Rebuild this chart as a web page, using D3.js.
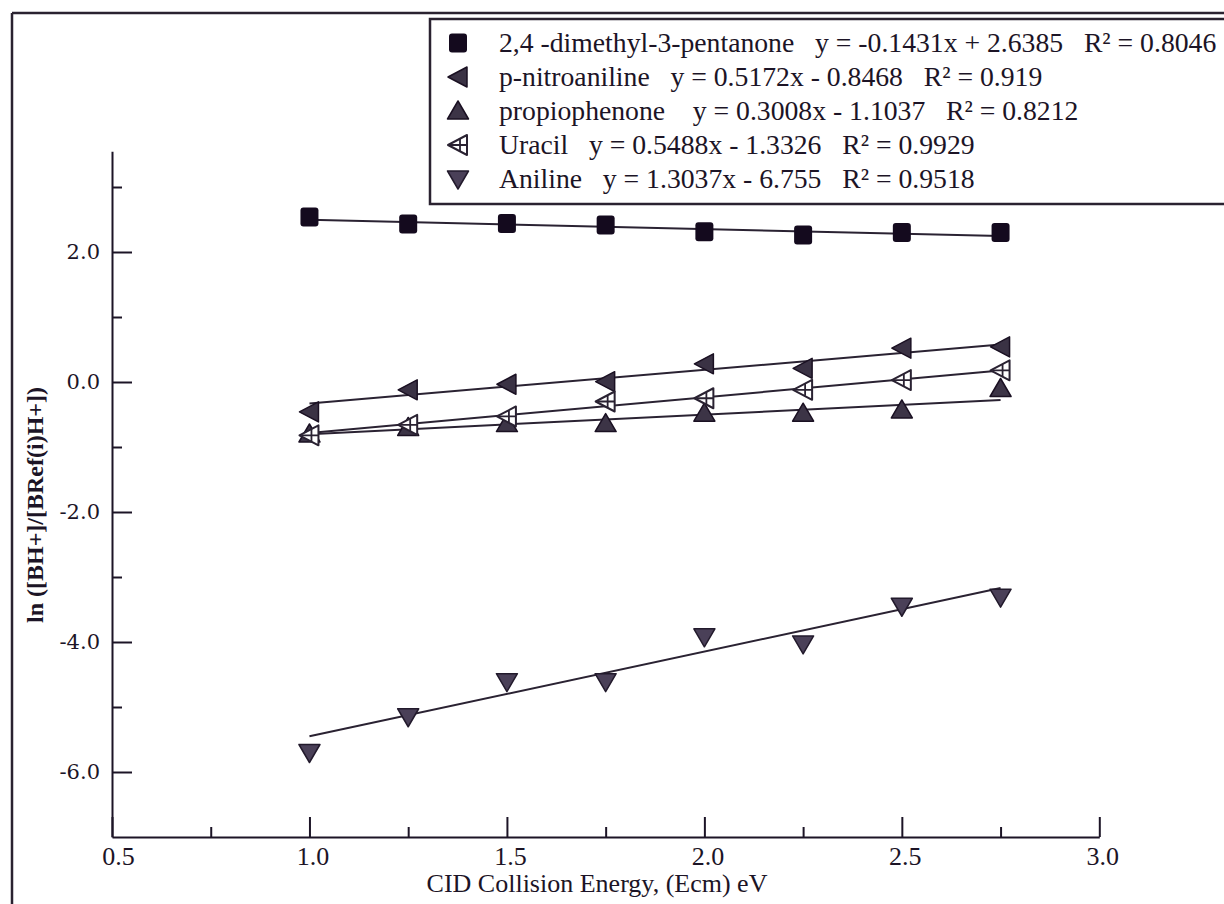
<!DOCTYPE html>
<html>
<head>
<meta charset="utf-8">
<script src="https://cdn.jsdelivr.net/npm/d3@7"></script>
<style>
  html, body { margin: 0; padding: 0; background: #fff; }
  svg { display: block; }
  text { fill: #1c1426; }
</style>
</head>
<body>
<svg id="chart" width="1224" height="904"></svg>
<script>
// CID energy (x) for every measured point
const energies = [1.0, 1.25, 1.5, 1.75, 2.0, 2.25, 2.5, 2.75];

// ln ratios for each reference base
const dimethylPentanone = [2.54, 2.43, 2.44, 2.415, 2.31, 2.26, 2.30, 2.30];
const pNitroaniline     = [-0.46, -0.12, -0.035, 0.005, 0.28, 0.21, 0.52, 0.54];
const propiophenone     = [-0.80, -0.70, -0.64, -0.64, -0.48, -0.48, -0.43, -0.10];
const uracil            = [-0.82, -0.66, -0.53, -0.30, -0.25, -0.12, 0.03, 0.18];
const aniline           = [-5.70, -5.15, -4.61, -4.61, -3.92, -4.03, -3.45, -3.31];

const seriesNames = ["2,4 -dimethyl-3-pentanone", "p-nitroaniline", "propiophenone", "Uracil", "Aniline"];
const seriesGaps  = ["   ", "   ", "    ", "   ", "   "];
const fitSlopes     = [-0.1431, 0.5172, 0.3008, 0.5488, 1.3037];
const fitIntercepts = [2.6385, -0.8468, -1.1037, -1.3326, -6.755];
const fitR2         = ["0.8046", "0.919", "0.8212", "0.9929", "0.9518"];
const markerKinds   = ["square", "left", "up", "leftOpen", "down"];

// axis ticks
const xMajorTicks = [0.5, 1.0, 1.5, 2.0, 2.5, 3.0];
const xMinorTicks = [0.75, 1.25, 1.75, 2.25, 2.75];
const xTickLabels = ["0.5", "1.0", "1.5", "2.0", "2.5", "3.0"];
const yMajorTicks = [-6, -4, -2, 0, 2];
const yMinorTicks = [-5, -3, -1, 1, 3];
const yTickLabels = ["-6.0", "-4.0", "-2.0", "0.0", "2.0"];

const seriesValues = [dimethylPentanone, pNitroaniline, propiophenone, uracil, aniline];

const svg = d3.select("#chart");
const ink = "#1c1426";

const x = d3.scaleLinear().domain([0.5, 3.0]).range([112, 1099.3]);
const y = d3.scaleLinear().domain([-7, 3.55]).range([837, 151.25]);

// outer frame (top and left edges of the panel)
svg.append("line").attr("x1", 12).attr("x2", 1224).attr("y1", 13).attr("y2", 13)
  .attr("stroke", "#2a2230").attr("stroke-width", 2.5);
svg.append("line").attr("x1", 12).attr("x2", 12).attr("y1", 13).attr("y2", 904)
  .attr("stroke", "#2a2230").attr("stroke-width", 2.5);

// ---- axes ----
function styleAxis(g) {
  g.selectAll("path.domain").attr("stroke", ink).attr("stroke-width", 2);
  g.selectAll(".tick line").attr("stroke", ink).attr("stroke-width", 2);
}

const xMajor = svg.append("g").attr("transform", `translate(0,${y(-7)})`)
  .call(d3.axisBottom(x).tickValues(xMajorTicks).tickSize(-20).tickSizeOuter(0).tickPadding(10)
    .tickFormat((d, i) => xTickLabels[i]));
xMajor.call(styleAxis);
xMajor.selectAll(".tick text")
  .attr("font-family", "'Liberation Serif', 'Times New Roman', serif")
  .attr("font-size", 26).attr("fill", ink).attr("dx", (d, i) => i === 0 ? 6 : 3);

const xMinor = svg.append("g").attr("transform", `translate(0,${y(-7)})`)
  .call(d3.axisBottom(x).tickValues(xMinorTicks).tickSize(-10).tickFormat(""));
xMinor.select("path.domain").remove();
xMinor.call(styleAxis);

const yMajor = svg.append("g").attr("transform", `translate(${x(0.5)},0)`)
  .call(d3.axisLeft(y).tickValues(yMajorTicks).tickSize(-20).tickSizeOuter(0).tickPadding(12)
    .tickFormat((d, i) => yTickLabels[i]));
yMajor.call(styleAxis);
yMajor.selectAll(".tick text")
  .attr("font-family", "'DejaVu Serif', serif")
  .attr("font-size", 21).attr("fill", ink);

const yMinor = svg.append("g").attr("transform", `translate(${x(0.5)},0)`)
  .call(d3.axisLeft(y).tickValues(yMinorTicks).tickSize(-10).tickFormat(""));
yMinor.select("path.domain").remove();
yMinor.call(styleAxis);

// axis titles
svg.append("text")
  .attr("x", 597).attr("y", 892)
  .attr("text-anchor", "middle")
  .attr("font-family", "'Liberation Serif', 'Times New Roman', serif")
  .attr("font-size", 26)
  .text("CID Collision Energy, (Ecm) eV");

svg.append("text")
  .attr("transform", "translate(43,505) rotate(-90)")
  .attr("text-anchor", "middle")
  .attr("font-family", "'Liberation Serif', 'Times New Roman', serif")
  .attr("font-weight", "bold")
  .attr("font-size", 24)
  .text("ln ([BH+]/[BRef(i)H+])");

// ---- markers ----
const markerStyle = {
  square:   { fill: "#140a1e", stroke: "#140a1e" },
  left:     { fill: "#3a3244", stroke: "#1a1022" },
  up:       { fill: "#3c3446", stroke: "#1a1022" },
  leftOpen: { fill: "#ffffff", stroke: "#2a2232" },
  down:     { fill: "#4a4058", stroke: "#221a2c" }
};

function drawMarker(g, kind, cx, cy) {
  const st = markerStyle[kind];
  if (kind === "square") {
    g.append("rect").attr("x", cx - 9).attr("y", cy - 9.5).attr("width", 18).attr("height", 19)
      .attr("rx", 3).attr("fill", st.fill);
    return;
  }
  const p = d3.path();
  if (kind === "left" || kind === "leftOpen") {
    p.moveTo(cx - 10, cy); p.lineTo(cx + 9, cy - 10); p.lineTo(cx + 9, cy + 10); p.closePath();
  } else if (kind === "up") {
    p.moveTo(cx, cy - 10); p.lineTo(cx + 10.5, cy + 8); p.lineTo(cx - 10.5, cy + 8); p.closePath();
  } else if (kind === "down") {
    p.moveTo(cx - 10.5, cy - 8); p.lineTo(cx + 10.5, cy - 8); p.lineTo(cx, cy + 10); p.closePath();
  }
  g.append("path").attr("d", p.toString())
    .attr("fill", st.fill).attr("stroke", st.stroke)
    .attr("stroke-width", kind === "leftOpen" ? 2 : 1.5).attr("stroke-linejoin", "round");
  if (kind === "leftOpen") {
    const q = d3.path();
    q.moveTo(cx - 8, cy); q.lineTo(cx + 9, cy);
    q.moveTo(cx + 2, cy - 6); q.lineTo(cx + 2, cy + 6);
    g.append("path").attr("d", q.toString()).attr("stroke", st.stroke).attr("stroke-width", 1.8).attr("fill", "none");
  }
}

// ---- regression lines from the fitted equations ----
const fitG = svg.append("g");
seriesValues.forEach((vals, i) => {
  const x0 = energies[0], x1 = energies[energies.length - 1];
  fitG.append("line")
    .attr("x1", x(x0)).attr("y1", y(fitSlopes[i] * x0 + fitIntercepts[i]))
    .attr("x2", x(x1)).attr("y2", y(fitSlopes[i] * x1 + fitIntercepts[i]))
    .attr("stroke", "#2a2232").attr("stroke-width", 2);
});

// data points (propiophenone first so the open uracil marks sit on top)
const drawOrder = [0, 2, 1, 3, 4];
const ptsG = svg.append("g");
drawOrder.forEach(i => {
  seriesValues[i].forEach((v, j) => drawMarker(ptsG, markerKinds[i], x(energies[j]), y(v)));
});

// ---- legend ----
const legendG = svg.append("g");
legendG.append("rect").attr("x", 430).attr("y", 19).attr("width", 800).attr("height", 185)
  .attr("fill", "#fff").attr("stroke", "#2a2230").attr("stroke-width", 2.5);

function fmtEq(m, b) {
  const sign = b < 0 ? " - " : " + ";
  return "y = " + m + "x" + sign + Math.abs(b);
}

const legendRowY = d3.scaleLinear().domain([0, 4]).range([43, 179]);
seriesNames.forEach((name, i) => {
  const cy = legendRowY(i);
  drawMarker(legendG, markerKinds[i], 458, cy);
  legendG.append("text")
    .attr("x", 499).attr("y", cy + 9)
    .attr("font-family", "'Liberation Serif', 'Times New Roman', serif")
    .attr("font-size", 27.7)
    .style("white-space", "pre")
    .text(name + seriesGaps[i] + fmtEq(fitSlopes[i], fitIntercepts[i]) + "   R² = " + fitR2[i]);
});
</script>
</body>
</html>
